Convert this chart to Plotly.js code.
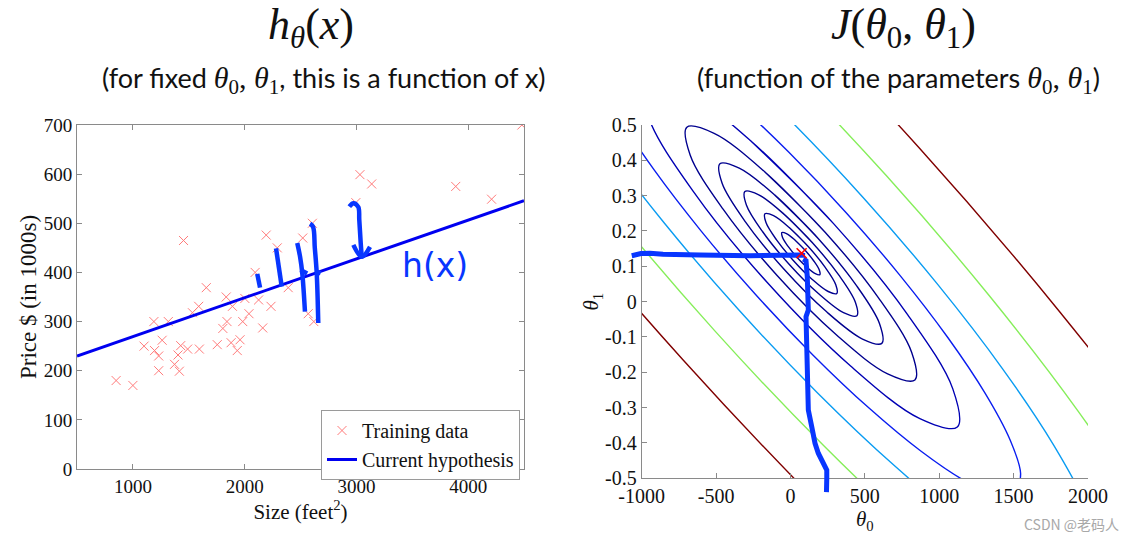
<!DOCTYPE html>
<html><head><meta charset="utf-8">
<script src="https://cdn.plot.ly/plotly-3.0.1.min.js"></script>
<style>html,body{margin:0;padding:0;background:#fff;}#chart{width:1131px;height:541px;}</style>
</head><body><div id="chart"></div>
<script>
// ---------- Left chart: training data (size in feet^2, price in $1000s) ----------
const sizeFeet2 = [850,1000,1100,1188,1194,1231,1231,1262,1317,1373,1404,1416,1428,1453,1490,1533,1589,1595,1657,1755,1805,1835,1842,1879,1891,1934,1959,1983,2002,2039,2094,2125,2162,2193,2236,2292,2390,2520,2569,2606,2619,2995,3032,3137,3889,4210,4481];
const priceK    = [180,170,250,300,241,230,200,262,300,213,232,199,251,465,244,318,331,244,369,253,286,350,300,257,331,241,263,300,347,316,400,344,287,476,331,450,369,470,316,500,300,542,599,580,575,549,700];
// current hypothesis line end points
const hypSize  = [500, 4500];
const hypPrice = [230, 546];
// hand-drawn strokes on the left chart (null separates strokes)
const penLeftX = [2113,2138,null, 2281,2332,null, 2471,2496,2516,2540,null, 2500,2560,null, 2585,2612,2628,2645,2659,null, 2640,2680,null, 2937,2973,3017,3026,3039,3048,null, 2973,3048,3122];
const penLeftY = [397,369,null, 449,371,null, 460,432,398,320,null, 405,398,null, 499,493,450,399,297,null, 402,398,null, 534,541,533,507,459,432,null, 456,432,452];
const leftXTicks = [1000,2000,3000,4000];
const leftYTicks = [0,100,200,300,400,500,600,700];

// ---------- Right chart: contour lines of J(theta0, theta1) ----------
const e1Th0 = [96.8,29.5,-27.0,-57.5,-53.8,-17.0,43.2,110.5,167.0,197.5,193.8,157.0,96.8,29.5];
const e1Th1 = [0.1462,0.1746,0.1926,0.1955,0.1824,0.1569,0.1258,0.0974,0.0794,0.0765,0.0896,0.1151,0.1462,0.1746];
const e2Th0 = [120.8,-6.7,-113.7,-171.5,-164.5,-94.8,19.2,146.7,253.7,311.5,304.5,234.8,120.8,-6.7];
const e2Th1 = [0.1553,0.2091,0.2433,0.2487,0.2239,0.1756,0.1167,0.0629,0.0287,0.0233,0.0481,0.0964,0.1553,0.2091];
const e3Th0 = [149.2,-49.7,-216.4,-306.5,-295.7,-186.8,-9.2,189.7,356.4,446.5,435.7,326.8,149.2,-49.7];
const e3Th1 = [0.1661,0.2499,0.3032,0.3117,0.2731,0.1978,0.1059,0.0221,-0.0312,-0.0397,-0.0011,0.0742,0.1661,0.2499];
const e4Th0 = [184.6,-103.0,-344.3,-474.5,-458.8,-301.5,-44.6,243.0,484.3,614.5,598.8,441.5,184.6,-103.0];
const e4Th1 = [0.1796,0.3008,0.3778,0.3901,0.3343,0.2253,0.0924,-0.0288,-0.1058,-0.1181,-0.0623,0.0467,0.1796,0.3008];
const e5Th0 = [231.3,-173.6,-513.2,-696.5,-674.4,-452.9,-91.3,313.6,653.2,836.5,814.4,592.9,231.3,-173.6];
const e5Th1 = [0.1973,0.3679,0.4764,0.4937,0.4151,0.2618,0.0747,-0.0959,-0.2044,-0.2217,-0.1431,0.0102,0.1973,0.3679];
const e6Th0 = [291.2,-264.2,-730.0,-981.5,-951.2,-647.3,-151.2,404.2,870.0,1121.5,1091.2,787.3,291.2,-264.2];
const e6Th1 = [0.2201,0.4542,0.6030,0.6270,0.5190,0.3085,0.0519,-0.1822,-0.3310,-0.3547,-0.2469,-0.0365,0.2201,0.4542];
const blueTh0 = [1517.5,1547.0,1475.8,1309.0,1057.5,738.7,374.6,-10.5,-390.0,-738.2,-1031.3,-1249.3,-1377.5,-1407.0,-1335.8,-1169.0,-917.5,-598.7,-234.6,150.5,530.0,878.2,1171.3,1389.3,1517.5,1547.0];
const blueTh1 = [-0.5395,-0.4864,-0.3911,-0.2597,-0.1015,0.0730,0.2518,0.4227,0.5740,0.6956,0.7789,0.8184,0.8115,0.7584,0.6631,0.5317,0.3735,0.1990,0.0202,-0.1507,-0.3020,-0.4236,-0.5069,-0.5464,-0.5395,-0.4864];
const cyanTh0 = [2057.5,2098.0,2000.3,1771.2,1425.9,988.2,488.2,-40.5,-561.6,-1039.7,-1442.1,-1741.5,-1917.5,-1958.0,-1860.3,-1631.2,-1285.9,-848.2,-348.2,180.5,701.6,1179.7,1582.1,1881.5,2057.5,2098.0];
const cyanTh1 = [-0.7915,-0.7186,-0.5877,-0.4074,-0.1901,0.0495,0.2950,0.5297,0.7374,0.9044,1.0187,1.0730,1.0635,0.9906,0.8597,0.6794,0.4621,0.2225,-0.0230,-0.2577,-0.4654,-0.6324,-0.7467,-0.8010,-0.7915,-0.7186];
const greenTh0 = [2417.0,1940.6,1336.8,646.9,-82.5,-801.4,null,-1800.6,-1196.8,-506.9,222.5,941.4,1601.0];
const greenTh1 = [-0.6137,-0.3139,0.0166,0.3554,0.6791,0.9657,null,0.5859,0.2554,-0.0834,-0.4071,-0.6937,-0.9240];
const maroonTh0 = [3290,2636.4,1808,861.5,-139.2,-1125.6,null,-2496.4,-1668,-721.5,279.2,1265.6];
const maroonTh1 = [-0.8925,-0.4812,-0.0278,0.437,0.8811,1.2744,null,0.7532,0.2998,-0.165,-0.6091,-1.0024];
// minimum marker
const minTh0 = [75];
const minTh1 = [0.137];
// hand-drawn strokes on the right chart
const penRightTh0 = [-1067,-1005,-944,-857,-608,-272,64,98,null, 86,104.5,113,120,104.5,109,113,120,143,165,187,221,244,244,242];
const penRightTh1 = [0.130,0.136,0.137,0.134,0.132,0.130,0.132,0.131,null, 0.1207,0.116,0.0706,-0.0236,-0.0426,-0.118,-0.2124,-0.3067,-0.354,-0.401,-0.429,-0.4576,-0.4765,-0.5,-0.539];
const rightXTicks = [-1000,-500,0,500,1000,1500,2000];
const rightXLabels = ['-1000','-500','0','500','1000','1500','2000'];
const rightYTicks = [-0.5,-0.4,-0.3,-0.2,-0.1,0,0.1,0.2,0.3,0.4,0.5];
const rightYLabels = ['-0.5','-0.4','-0.3','-0.2','-0.1','0','0.1','0.2','0.3','0.4','0.5'];

// ---------- styling ----------
const W = 1131, H = 541;
const px = v => v / W, py = v => 1 - v / H;
const SERIF = 'Liberation Serif, DejaVu Serif, serif';
const SANS = 'Lato, Open Sans, sans-serif';
const AX = '#8a8a8a';
const NAVY = '#00008f';

function contour(xs, ys, color, width) {
  return {x: xs, y: ys, xaxis: 'x2', yaxis: 'y2', mode: 'lines', type: 'scatter',
    line: {color: color, width: width, shape: 'spline', smoothing: 1},
    showlegend: false, hoverinfo: 'skip'};
}

const traces = [
  {x: sizeFeet2, y: priceK, type: 'scatter', mode: 'markers', name: 'Training data',
   marker: {symbol: 'x-thin', size: 9, color: '#ff7b7b', opacity: 1, line: {color: '#ff7b7b', width: 1}}},
  {x: hypSize, y: hypPrice, type: 'scatter', mode: 'lines', name: 'Current hypothesis',
   line: {color: '#0000f0', width: 3}},
  {x: penLeftX, y: penLeftY, type: 'scatter', mode: 'lines', showlegend: false, hoverinfo: 'skip',
   line: {color: '#0836ff', width: 4.5, shape: 'spline'}},
  contour(maroonTh0, maroonTh1, '#800000', 1.4),
  contour(greenTh0, greenTh1, '#86ee5a', 1.4),
  contour(cyanTh0, cyanTh1, '#0a9cf2', 1.4),
  contour(blueTh0, blueTh1, '#0a1ef0', 1.4),
  contour(e6Th0, e6Th1, '#0000b4', 1.4),
  contour(e5Th0, e5Th1, NAVY, 1.4),
  contour(e4Th0, e4Th1, NAVY, 1.4),
  contour(e3Th0, e3Th1, NAVY, 1.4),
  contour(e2Th0, e2Th1, NAVY, 1.4),
  contour(e1Th0, e1Th1, NAVY, 1.4),
  {x: penRightTh0, y: penRightTh1, xaxis: 'x3', yaxis: 'y3', type: 'scatter', mode: 'lines',
   showlegend: false, hoverinfo: 'skip', line: {color: '#0836ff', width: 5}},
  // drawn on the overlay axes (same scale as the contour axes) so it stays on top of the pen strokes
  {x: minTh0, y: minTh1, xaxis: 'x3', yaxis: 'y3', type: 'scatter', mode: 'markers', showlegend: false,
   marker: {symbol: 'x-thin', size: 10, color: 'red', line: {color: 'red', width: 1.6}}}
];

const tickFont = {family: SERIF, size: 19, color: '#111'};
const layout = {
  width: W, height: H, margin: {l: 0, r: 0, t: 0, b: 0},
  paper_bgcolor: '#fff', plot_bgcolor: 'rgba(0,0,0,0)',
  showlegend: true, hovermode: false,
  xaxis: {domain: [px(77), px(524)], range: [500, 4500], anchor: 'y',
    tickvals: leftXTicks, ticks: 'inside', ticklen: 5, tickcolor: AX, showline: true, linecolor: AX,
    mirror: 'ticks', showgrid: false, zeroline: false, tickfont: tickFont,
    title: {text: 'Size (feet<sup>2</sup>)', font: {family: SERIF, size: 21, color: '#111'}, standoff: 4}},
  yaxis: {domain: [py(469), py(125)], range: [0, 700], anchor: 'x',
    tickvals: leftYTicks, ticks: 'inside', ticklen: 5, tickcolor: AX, showline: true, linecolor: AX,
    mirror: 'ticks', showgrid: false, zeroline: false, tickfont: tickFont,
    title: {text: 'Price $ (in 1000s)', font: {family: SERIF, size: 23, color: '#111'}, standoff: 0}},
  xaxis2: {domain: [px(641.7), px(1088)], range: [-1000, 2000], anchor: 'y2',
    tickvals: rightXTicks, ticktext: rightXLabels, ticks: 'inside', ticklen: 5, tickcolor: AX,
    showline: true, linecolor: AX, showgrid: false, zeroline: false, tickfont: {family: SERIF, size: 20, color: '#111'},
    title: {text: '<i>θ</i><sub>0</sub>', font: {family: SERIF, size: 21, color: '#111'}, standoff: 0}},
  yaxis2: {domain: [py(478.3), py(125)], range: [-0.5, 0.5], anchor: 'x2',
    tickvals: rightYTicks, ticktext: rightYLabels, ticks: 'inside', ticklen: 5, tickcolor: AX,
    showline: true, linecolor: AX, showgrid: false, zeroline: false, tickfont: {family: SERIF, size: 20, color: '#111'},
    title: {text: '<i>θ</i><sub>1</sub>', font: {family: SERIF, size: 21, color: '#111'}, standoff: 0}},
  xaxis3: {domain: [px(625), px(1088)], range: [-1112.3, 2000], anchor: 'y3', visible: false, fixedrange: true},
  yaxis3: {domain: [py(500), py(125)], range: [-0.5614, 0.5], anchor: 'x3', visible: false, fixedrange: true},
  legend: {x: px(520), xanchor: 'right', y: py(410), yanchor: 'top', bgcolor: '#fff',
    bordercolor: '#9a9a9a', borderwidth: 1, font: {family: SERIF, size: 20, color: '#111'},
    tracegroupgap: 0, itemwidth: 30},
  annotations: [
    {xref: 'paper', yref: 'paper', x: px(311), y: py(28), xanchor: 'center', yanchor: 'middle', showarrow: false,
     text: '<i>h</i><sub><i>θ</i></sub>(<i>x</i>)', font: {family: SERIF, size: 44, color: '#111'}},
    {xref: 'paper', yref: 'paper', x: px(903), y: py(28), xanchor: 'center', yanchor: 'middle', showarrow: false,
     text: '<i>J</i>(<i>θ</i><sub>0</sub>, <i>θ</i><sub>1</sub>)', font: {family: SERIF, size: 44, color: '#111'}},
    {xref: 'paper', yref: 'paper', x: px(324), y: py(80), xanchor: 'center', yanchor: 'middle', showarrow: false,
     text: '(for fixed <span style="font-family:Liberation Serif;font-size:30px"><i>θ</i><sub>0</sub>, <i>θ</i><sub>1</sub></span>, this is a function of x)',
     font: {family: SANS, size: 27, color: '#111'}},
    {xref: 'paper', yref: 'paper', x: px(898), y: py(80), xanchor: 'center', yanchor: 'middle', showarrow: false,
     text: '(function of the parameters <span style="font-family:Liberation Serif;font-size:30px"><i>θ</i><sub>0</sub>, <i>θ</i><sub>1</sub></span>)',
     font: {family: SANS, size: 27, color: '#111'}},
    {xref: 'x', yref: 'y', x: 3700, y: 415, xanchor: 'center', yanchor: 'middle', showarrow: false,
     text: 'h(x)', font: {family: 'DejaVu Sans', size: 33, color: '#0836ff'}},
    {xref: 'paper', yref: 'paper', x: px(1121), y: py(524), xanchor: 'right', yanchor: 'middle', showarrow: false,
     text: 'CSDN @老码人', font: {family: 'Noto Sans CJK SC, sans-serif', size: 14, color: '#a8a8a8'}}
  ]
};

Plotly.newPlot('chart', traces, layout, {displayModeBar: false, staticPlot: true});
</script>
</body></html>
